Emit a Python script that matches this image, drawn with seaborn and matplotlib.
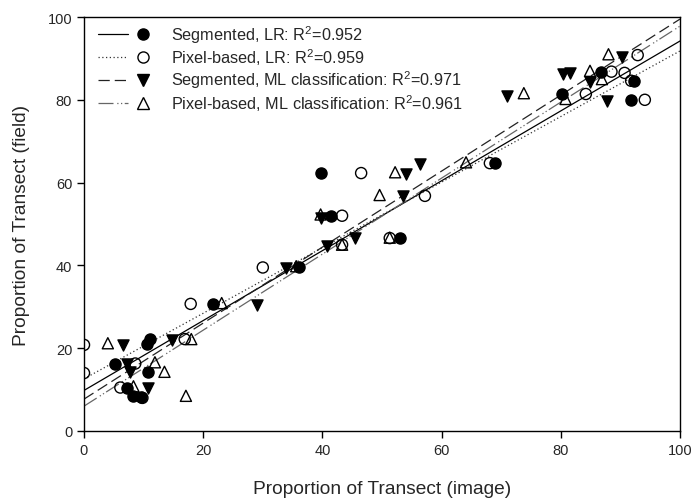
import matplotlib
matplotlib.use("Agg")
import matplotlib.pyplot as plt
import seaborn as sns
import numpy as np
import pandas as pd
from matplotlib.lines import Line2D
from matplotlib.legend_handler import HandlerTuple

# ---- data ----
seg_lr_x = [5.2, 7.2, 8.3, 9.5, 10.5, 10.7, 11.0, 21.7, 36.1, 39.7, 41.4, 53.0, 68.9, 80.2, 86.8, 91.8, 92.3]
seg_lr_y = [16.3, 10.5, 8.4, 8.1, 21.0, 14.2, 22.2, 30.7, 39.5, 62.3, 52.0, 46.6, 64.7, 81.4, 86.6, 80.0, 84.6]

pix_lr_x = [0.0, 0.0, 6.1, 8.6, 9.8, 16.9, 17.9, 30.0, 43.3, 43.3, 46.5, 51.3, 57.2, 68.1, 84.2, 88.5, 90.7, 91.8, 92.9, 94.1]
pix_lr_y = [20.8, 14.0, 10.5, 16.3, 8.0, 22.2, 30.7, 39.5, 52.0, 45.0, 62.3, 46.6, 56.8, 64.7, 81.4, 86.8, 86.5, 84.6, 90.8, 80.0]

seg_ml_x = [6.6, 7.2, 7.7, 10.7, 14.8, 29.1, 33.9, 39.8, 40.7, 45.4, 53.5, 54.0, 56.4, 70.9, 80.4, 81.5, 84.9, 87.7, 90.3]
seg_ml_y = [20.8, 16.2, 14.2, 10.3, 22.0, 30.4, 39.3, 51.5, 44.6, 46.5, 56.7, 62.1, 64.5, 81.0, 86.2, 86.5, 84.2, 79.8, 90.3]

pix_ml_x = [4.0, 8.3, 11.9, 13.5, 17.1, 18.0, 23.1, 35.6, 39.7, 43.3, 49.6, 51.3, 52.2, 64.1, 73.8, 80.8, 84.9, 86.9, 88.0]
pix_ml_y = [21.2, 10.8, 16.6, 14.3, 8.5, 22.2, 30.9, 39.8, 52.3, 45.0, 57.0, 46.7, 62.5, 64.9, 81.6, 80.2, 87.0, 85.0, 91.0]

series_names = ["Segmented, LR: R$^2$=0.952",
                "Pixel-based, LR: R$^2$=0.959",
                "Segmented, ML classification: R$^2$=0.971",
                "Pixel-based, ML classification: R$^2$=0.961"]
fit_intercepts = [9.8, 12.6, 7.7, 6.0]
fit_slopes = [0.844, 0.792, 0.918, 0.918]

x_ticks = [0, 20, 40, 60, 80, 100]
y_ticks = [0, 20, 40, 60, 80, 100]

# ---- styles ----
sns.set_style("white")
plt.rcParams['font.family'] = ['Liberation Sans', 'DejaVu Sans']
plt.rcParams['mathtext.fontset'] = 'custom'
plt.rcParams['mathtext.rm'] = 'Liberation Sans'

fig = plt.figure(figsize=(6.91, 5.02), dpi=100)
ax = fig.add_axes([84/691, 1-432/502, (680-84)/691, (432-18)/502])

line_styles = ['-', (0, (1, 2)), (0, (9, 4)), (0, (12, 3, 1, 2, 1, 2))]
line_colors = ['black', '#333333', '#222222', '#666666']
markers = ['o', 'o', 'v', '^']
facecols = ['black', 'none', 'black', 'none']
msize = [64, 64, 64, 64]

xs_all = [seg_lr_x, pix_lr_x, seg_ml_x, pix_ml_x]
ys_all = [seg_lr_y, pix_lr_y, seg_ml_y, pix_ml_y]

# regression lines across the full x-range
for i in range(4):
    xl = np.array([0, 100])
    df = pd.DataFrame({'x': xl, 'y': fit_intercepts[i] + fit_slopes[i]*xl})
    sns.lineplot(data=df, x='x', y='y', ax=ax, color=line_colors[i],
                 linestyle=line_styles[i], linewidth=0.9, legend=False)

# scatter points
for i in [3, 1, 2, 0]:
    df = pd.DataFrame({'x': xs_all[i], 'y': ys_all[i]})
    sns.scatterplot(data=df, x='x', y='y', ax=ax, marker=markers[i], s=msize[i],
                    facecolor=facecols[i], edgecolor='black', linewidth=1.0,
                    legend=False, zorder=3)

ax.set_xlim(0, 100)
ax.set_ylim(0, 100)
ax.set_xticks(x_ticks)
ax.set_yticks(y_ticks)
ax.tick_params(axis='both', which='both', direction='out', length=5, width=1,
               labelsize=10.5, bottom=True, left=True, top=False, right=False, color='black')
for s in ax.spines.values():
    s.set_color('black')
    s.set_linewidth(1.0)
ax.set_xlabel("Proportion of Transect (image)", fontsize=13.8, labelpad=17)
ax.set_ylabel("Proportion of Transect (field)", fontsize=13.8, labelpad=13)

handles = []
for i in range(4):
    ln = Line2D([], [], color=line_colors[i], linestyle=line_styles[i], linewidth=0.9)
    mk = Line2D([], [], marker=markers[i], linestyle='none', markersize=8,
                markerfacecolor=facecols[i], markeredgecolor='black', markeredgewidth=1.0)
    handles.append((ln, mk))
leg = ax.legend(handles, series_names, handler_map={tuple: HandlerTuple(ndivide=None, pad=0.0)},
                loc='upper left', frameon=False, fontsize=11.7, handlelength=3.7,
                handletextpad=0.75, labelspacing=0.1, borderaxespad=0.3,
                bbox_to_anchor=(0.005, 1.013))

fig.savefig("out.png", dpi=100)
